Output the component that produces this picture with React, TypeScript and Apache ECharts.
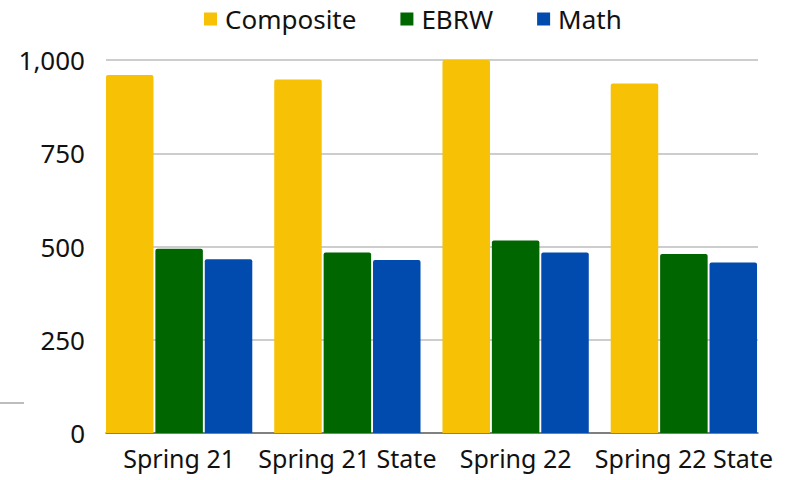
import React, { useEffect, useRef } from "react";
import * as echarts from "echarts";

const categories = ["Spring 21", "Spring 21 State", "Spring 22", "Spring 22 State"];
const composite = [960, 948, 1000, 937];
const ebrw = [494, 484, 516, 480];
const math = [466, 464, 484, 457];
const yTicks = [0, 250, 500, 750, 1000];

const FONT = "Noto Sans";

export default function App() {
  const ref = useRef<HTMLDivElement>(null);
  useEffect(() => {
    if (!ref.current) return;
    const chart = echarts.init(ref.current, null, { renderer: "svg" });
    const top = 60;
    const bottom = 47;
    chart.setOption({
      animation: false,
      backgroundColor: "#ffffff",
      textStyle: { fontFamily: FONT },
      legend: {
        left: 199,
        top: 1,
        itemWidth: 13,
        itemHeight: 13,
        itemGap: 44,
        icon: "rect",
        textStyle: { fontFamily: FONT, fontSize: 26, color: "#111", padding: [0, 0, 0, 3] },
        data: ["Composite", "EBRW", "Math"],
      },
      grid: [
        { left: 106, right: 32, top, bottom },
        { left: 95, right: 22, top, bottom },
      ],
      xAxis: [
        {
          type: "category",
          gridIndex: 0,
          data: categories,
          axisLine: { show: true, lineStyle: { color: "#666", width: 1.5 } },
          axisTick: { show: false },
          axisLabel: { show: false },
          splitLine: { show: false },
        },
        {
          type: "category",
          gridIndex: 1,
          data: categories,
          axisLine: { show: false },
          axisTick: { show: false },
          axisLabel: {
            fontFamily: FONT,
            fontSize: 25,
            color: "#111",
            margin: 12,
            interval: 0,
            hideOverlap: false,
          },
        },
      ],
      yAxis: [
        {
          type: "value",
          gridIndex: 0,
          min: yTicks[0],
          max: yTicks[yTicks.length - 1],
          interval: 250,
          axisLine: { show: false },
          axisTick: { show: false },
          axisLabel: {
            fontFamily: FONT,
            fontSize: 26,
            color: "#111",
            margin: 21,
            formatter: (v: number) => v.toLocaleString("en-US"),
          },
          splitLine: { lineStyle: { color: "#bdbdbd", width: 1.5 } },
        },
        {
          type: "value",
          gridIndex: 1,
          min: yTicks[0],
          max: yTicks[yTicks.length - 1],
          interval: 250,
          show: false,
          splitLine: { show: false },
        },
      ],
      series: [
        {
          name: "Composite",
          type: "bar",
          xAxisIndex: 1,
          yAxisIndex: 1,
          data: composite,
          barWidth: 47.5,
          barGap: "4%",
          itemStyle: { color: "#F7C106", borderRadius: [2, 2, 0, 0] },
        },
        {
          name: "EBRW",
          type: "bar",
          xAxisIndex: 1,
          yAxisIndex: 1,
          data: ebrw,
          barWidth: 47.5,
          barGap: "4%",
          itemStyle: { color: "#006600", borderRadius: [2, 2, 0, 0] },
        },
        {
          name: "Math",
          type: "bar",
          xAxisIndex: 1,
          yAxisIndex: 1,
          data: math,
          barWidth: 47.5,
          barGap: "4%",
          itemStyle: { color: "#004BAD", borderRadius: [2, 2, 0, 0] },
        },
      ],
      graphic: [
        {
          type: "line",
          shape: { x1: 0, y1: 403, x2: 24, y2: 403 },
          style: { stroke: "#bdbdbd", lineWidth: 2 },
        },
      ],
    });
    return () => chart.dispose();
  }, []);
  return (
    <div
      ref={ref}
      style={{ position: "fixed", left: 0, top: 0, width: 790, height: 480 }}
    />
  );
}
